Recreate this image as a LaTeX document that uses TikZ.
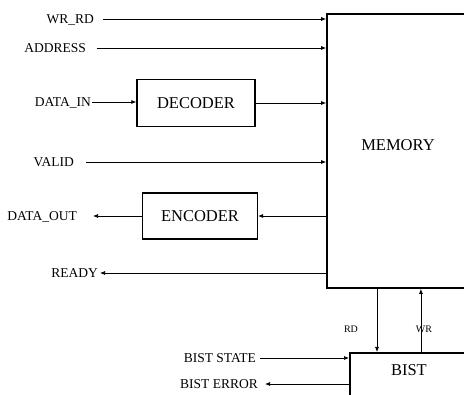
\documentclass[tikz,border=0pt]{standalone}
\usepackage{fontspec}
\setmainfont{Liberation Serif}
\usetikzlibrary{arrows.meta}

\tikzset{
  lbl/.style={font=\fontsize{13.5}{15}\selectfont, inner sep=0pt, anchor=east, text height=8.5pt, text depth=0pt},
  blk/.style={draw, line width=1.3pt, font=\fontsize{16.5}{18}\selectfont, inner sep=0pt},
  sig/.style={->, line width=0.7pt}
}

\begin{document}
\begin{tikzpicture}[x=1pt, y=-1pt, >={Latex[length=5pt,width=4pt]}]
  \useasboundingbox (0,0) rectangle (464,395); \clip (0,0) rectangle (464,395);
  % blocks
  \node[blk, line width=1.8pt, minimum width=142, minimum height=274, text depth=12pt] (mem) at (398,151) {MEMORY};
  \node[blk, minimum width=118, minimum height=47] (dec) at (196,103) {DECODER};
  \node[blk, minimum width=115, minimum height=46] (enc) at (200,216) {ENCODER};
  \node[blk, line width=1.8pt, anchor=north west, minimum width=118, text height=23pt, text depth=40pt] (bist) at (349,352) {BIST};
  % signal names
  \node[lbl] (wrrd) at (94,19) {WR\_RD};
  \node[lbl] (addr) at (86,48) {ADDRESS};
  \node[lbl] (din) at (91,102) {DATA\_IN};
  \node[lbl] (vld) at (74,162) {VALID};
  \node[lbl] (dout) at (77,216) {DATA\_OUT};
  \node[lbl] (rdy) at (98,273) {READY};
  \node[lbl] (bst) at (256,358) {BIST STATE};
  \node[lbl] (berr) at (258,384) {BIST ERROR};
  \node[font=\fontsize{10}{12}\selectfont, inner sep=0pt] (rdl) at (351,329) {RD};
  \node[font=\fontsize{10}{12}\selectfont, inner sep=0pt] (wrl) at (424,329) {WR};
  % inputs
  \draw[sig] ([xshift=9]wrrd.east) -- (wrrd -| mem.west);
  \draw[sig] ([xshift=11]addr.east) -- (addr -| mem.west);
  \draw[sig] ([xshift=1]din.east) -- (din -| dec.west); \draw[sig] (dec.east) -- (dec.east -| mem.west);
  \draw[sig] ([xshift=12]vld.east) -- (vld -| mem.west);
  % outputs
  \draw[sig] (enc.east -| mem.west) -- (enc.east); \draw[sig] (enc.west) -- ([xshift=16]dout.east);
  \draw[sig] (rdy -| mem.west) -- ([xshift=2]rdy.east);
  % bist
  \draw[sig] ([xshift=-21]mem.south) -- ([xshift=-21]mem.south |- bist.north);
  \draw[sig] ([xshift=12]bist.north) -- ([xshift=12]bist.north |- mem.south);
  \draw[sig] ([xshift=4]bst.east) -- (bst -| bist.west);
  \draw[sig] (berr -| bist.west) -- ([xshift=7]berr.east);
\end{tikzpicture}
\end{document}
